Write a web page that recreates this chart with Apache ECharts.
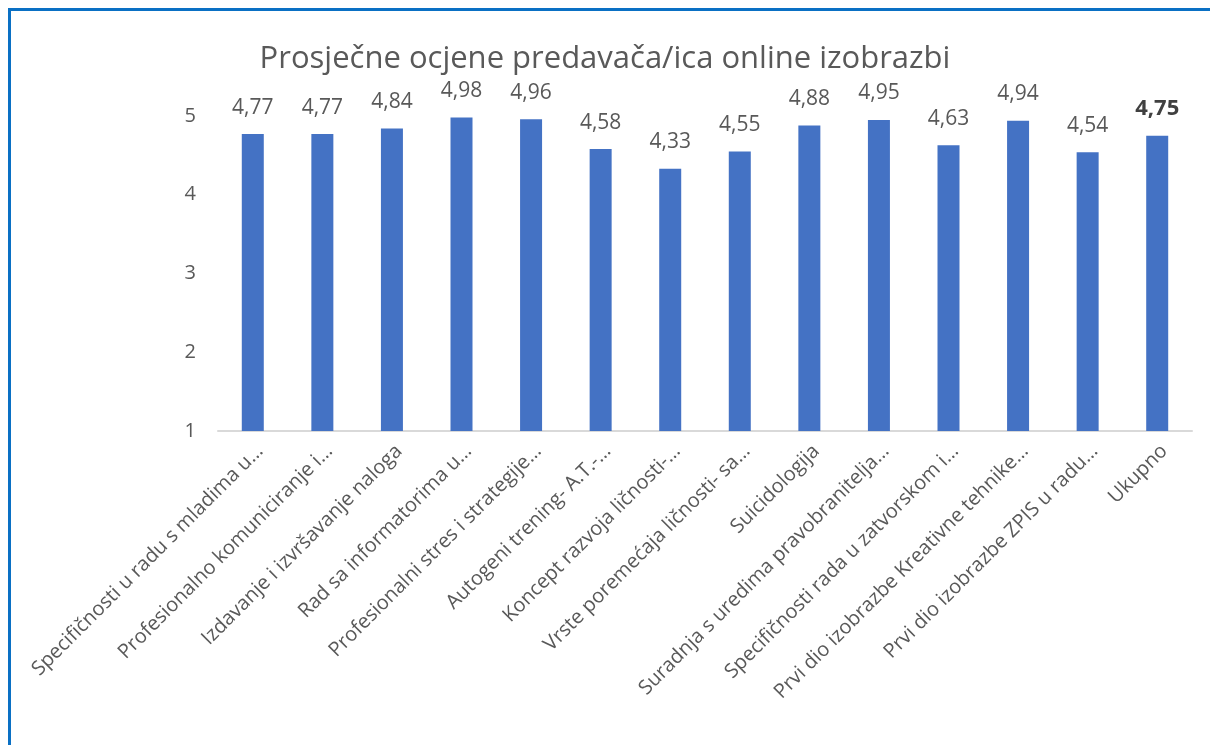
<!DOCTYPE html>
<html>
<head>
<meta charset="utf-8">
<script src="https://cdn.jsdelivr.net/npm/echarts@6/dist/echarts.min.js"></script>
<style>
html, body { margin: 0; padding: 0; background: #fff; }
#frame { position: absolute; left: 8px; top: 8px; width: 1210px; height: 745px; border-left: 3px solid #0a70c4; border-top: 3px solid #0a70c4; }
#chart { position: absolute; left: 0; top: 0; width: 1210px; height: 745px; }
</style>
</head>
<body>
<div id="frame"></div>
<div id="chart"></div>
<script>
var categories = [
	'Specifičnosti u radu s mladima u…',
	'Profesionalno komuniciranje i…',
	'Izdavanje i izvršavanje naloga',
	'Rad sa informatorima u…',
	'Profesionalni stres i strategije…',
	'Autogeni trening- A.T.-…',
	'Koncept razvoja ličnosti-…',
	'Vrste poremećaja ličnosti- sa…',
	'Suicidologija',
	'Suradnja s uredima pravobranitelja…',
	'Specifičnosti rada u zatvorskom i…',
	'Prvi dio izobrazbe Kreativne tehnike…',
	'Prvi dio izobrazbe ZPIS u radu…',
	'Ukupno'
];
var values = [4.77, 4.77, 4.84, 4.98, 4.96, 4.58, 4.33, 4.55, 4.88, 4.95, 4.63, 4.94, 4.54, 4.75];
var yTicks = [1, 5, 1]; // min, max, interval

var myChart = echarts.init(document.getElementById('chart'));

var seriesData = [];
for(var i = 0; i < values.length; i++) {
	var item = { value: values[i] };
	if(categories[i] == 'Ukupno') {
		item.label = { fontWeight: 'bold', color: '#404040', fontSize: 22 };
	}
	seriesData.push(item);
}

var option = {
	textStyle: { fontFamily: 'Open Sans' },
	title: {
		text: 'Prosječne ocjene predavača/ica online izobrazbi',
		left: 'center',
		top: 39,
		textStyle: { color: '#595959', fontSize: 31, fontWeight: 'normal', fontFamily: 'Open Sans' }
	},
	grid: { left: 218, right: 18, top: 116, bottom: 314 },
	xAxis: {
		type: 'category',
		data: categories,
		axisLine: { lineStyle: { color: '#d9d9d9', width: 2 } },
		axisTick: { show: false },
		axisLabel: { rotate: 45, interval: 0, margin: 10, verticalAlign: 'top', color: '#595959', fontSize: 20 }
	},
	yAxis: {
		type: 'value',
		min: yTicks[0],
		max: yTicks[1],
		interval: yTicks[2],
		splitLine: { show: false },
		axisLine: { show: false },
		axisTick: { show: false },
		axisLabel: { color: '#595959', fontSize: 20, margin: 22 }
	},
	series: [{
		type: 'bar',
		data: seriesData,
		barWidth: 22,
		itemStyle: { color: '#4472c4' },
		label: {
			show: true,
			position: 'top',
			distance: 16,
			color: '#595959',
			fontSize: 21,
			formatter: function(p) { return String(p.value).replace('.', ','); }
		}
	}]
};
myChart.setOption(option);
</script>
</body>
</html>
